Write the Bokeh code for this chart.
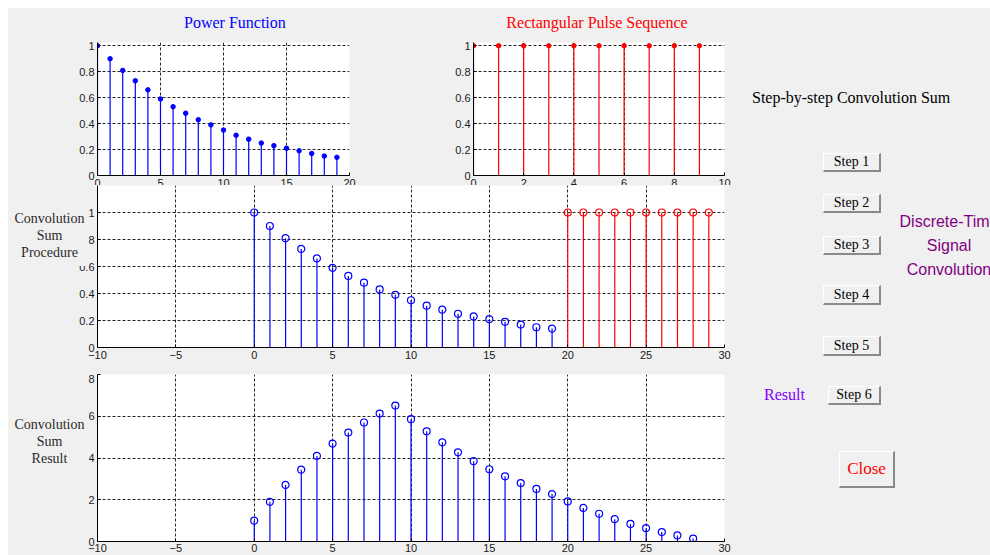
from bokeh.plotting import figure
from bokeh.models import ColumnDataSource, Range1d, FixedTicker, Div
from bokeh.layouts import row, column
from bokeh.embed import file_html
from bokeh.resources import INLINE

# ---------------- data ----------------
power_n = [0, 1, 2, 3, 4, 5, 6, 7, 8, 9, 10, 11, 12, 13, 14, 15, 16, 17, 18, 19]
power_vals = [1.0, 0.9, 0.81, 0.73, 0.66, 0.59, 0.53, 0.48, 0.43, 0.39,
              0.35, 0.31, 0.28, 0.25, 0.23, 0.21, 0.19, 0.17, 0.15, 0.14]

pulse_n = [0, 1, 2, 3, 4, 5, 6, 7, 8, 9]
pulse_vals = [1, 1, 1, 1, 1, 1, 1, 1, 1, 1]

proc_blue_n = [0, 1, 2, 3, 4, 5, 6, 7, 8, 9, 10, 11, 12, 13, 14, 15, 16, 17, 18, 19]
proc_blue_vals = [1.0, 0.9, 0.81, 0.73, 0.66, 0.59, 0.53, 0.48, 0.43, 0.39,
                  0.35, 0.31, 0.28, 0.25, 0.23, 0.21, 0.19, 0.17, 0.15, 0.14]
proc_red_n = [20, 21, 22, 23, 24, 25, 26, 27, 28, 29]
proc_red_vals = [1, 1, 1, 1, 1, 1, 1, 1, 1, 1]

result_n = [0, 1, 2, 3, 4, 5, 6, 7, 8, 9, 10, 11, 12, 13, 14, 15, 16, 17, 18, 19,
            20, 21, 22, 23, 24, 25, 26, 27, 28]
result_vals = [1.0, 1.9, 2.71, 3.44, 4.1, 4.69, 5.22, 5.7, 6.13, 6.51,
               5.86, 5.28, 4.75, 4.27, 3.85, 3.46, 3.12, 2.8, 2.52, 2.27,
               1.92, 1.61, 1.33, 1.07, 0.84, 0.64, 0.45, 0.29, 0.14]

tl_xticks = [0, 5, 10, 15, 20]
tr_xticks = [0, 2, 4, 6, 8, 10]
unit_yticks = [0, 0.2, 0.4, 0.6, 0.8, 1]
unit_ylabels = ["0", "0.2", "0.4", "0.6", "0.8", "1"]
conv_xticks = [-10, -5, 0, 5, 10, 15, 20, 25, 30]
result_yticks = [0, 2, 4, 6, 8]

BG = "#f0f0f0"
BLUE = "#0000ff"
RED = "#ff0000"
PANEL = {"background-color": BG}


def make_fig(w, h, xr, yr, left, right, top, bottom):
    p = figure(width=w, height=h, x_range=Range1d(*xr), y_range=Range1d(*yr),
               output_backend="svg", toolbar_location=None, tools="",
               min_border_left=left, min_border_right=right,
               min_border_top=top, min_border_bottom=bottom)
    p.background_fill_color = "white"
    p.border_fill_color = BG
    p.outline_line_color = None
    for ax in (p.xaxis[0], p.yaxis[0]):
        ax.axis_line_color = "black"
        ax.axis_line_width = 1
        ax.major_tick_in = 3
        ax.major_tick_out = 0
        ax.major_tick_line_color = "black"
        ax.minor_tick_line_color = None
        ax.major_label_text_font = "Liberation Sans"
        ax.major_label_text_font_size = "11px"
        ax.major_label_text_color = "#1a1a1a"
        ax.major_label_standoff = 3
    for g in (p.xgrid[0], p.ygrid[0]):
        g.grid_line_color = "black"
        g.grid_line_dash = "3 2"
        g.grid_line_alpha = 0.85
        g.grid_line_width = 1
    return p


def stems(p, n, v, color, size, filled):
    src = ColumnDataSource(dict(n=n, v=v, base=[0] * len(n)))
    p.segment(x0="n", y0="base", x1="n", y1="v", source=src,
              line_color=color, line_width=1.2)
    if filled:
        p.scatter("n", "v", source=src, size=size, marker="circle",
                  fill_color=color, line_color=color)
    else:
        p.scatter("n", "v", source=src, size=size, marker="circle",
                  fill_color=None, line_color=color, line_width=1.2)


def unit_y(p):
    p.yaxis.ticker = FixedTicker(ticks=unit_yticks)
    p.yaxis.major_label_overrides = {t: s for t, s in zip(unit_yticks, unit_ylabels)}
    p.ygrid.ticker = FixedTicker(ticks=unit_yticks)


def side_label(lines, h, top):
    html = ('<div style="width:79px;height:%dpx;background:%s;text-align:center;'
            'font-family:\'Liberation Serif\',serif;font-size:14px;line-height:17px;'
            'color:#2a2a2a;box-sizing:border-box;padding-top:%dpx;">%s</div>'
            % (h, BG, (h - 17 * len(lines)) // 2, "<br>".join(lines)))
    return Div(text=html, width=79, height=h, margin=(top, 651, 0, -730))


# ---------------- titles row ----------------
titles_html = (
    '<div style="position:relative;width:732px;height:28px;background:#f0f0f0;'
    'font-family:\'Liberation Serif\',serif;font-size:16px;line-height:20px;">'
    '<div style="position:absolute;left:176px;top:5px;color:#0000ff;white-space:nowrap;">'
    'Power Function</div>'
    '<div style="position:absolute;left:489px;top:5px;width:200px;text-align:center;'
    'color:#ff0000;white-space:nowrap;">Rectangular Pulse Sequence</div></div>')
titles = Div(text=titles_html, width=732, height=28, margin=0)

# ---------------- top left: power function ----------------
p_tl = make_fig(352, 164, (0, 20), (0, 1.025), 89, 11, 6, 25)
p_tl.xaxis.ticker = FixedTicker(ticks=tl_xticks)
p_tl.xgrid.ticker = FixedTicker(ticks=tl_xticks)
unit_y(p_tl)
stems(p_tl, power_n, power_vals, BLUE, 4.5, True)

# ---------------- top right: rectangular pulse ----------------
p_tr = make_fig(380, 164, (0, 10), (0, 1.025), 113, 16, 6, 25)
p_tr.xaxis.ticker = FixedTicker(ticks=tr_xticks)
p_tr.xgrid.ticker = FixedTicker(ticks=tr_xticks)
unit_y(p_tr)
stems(p_tr, pulse_n, pulse_vals, RED, 4.5, True)

# ---------------- middle: procedure ----------------
p_mid = make_fig(732, 189, (-10, 30), (0, 1.2), 89, 16, 0, 27)
p_mid.xaxis.ticker = FixedTicker(ticks=conv_xticks)
p_mid.xgrid.ticker = FixedTicker(ticks=conv_xticks)
unit_y(p_mid)
stems(p_mid, proc_blue_n, proc_blue_vals, BLUE, 7, False)
stems(p_mid, proc_red_n, proc_red_vals, RED, 7, False)
lab_mid = side_label(["Convolution", "Sum", "Procedure"], 60, 21)

# ---------------- bottom: result ----------------
p_bot = make_fig(732, 181, (-10, 30), (0, 8), 89, 16, 0, 14)
p_bot.xaxis.major_label_standoff = 2
p_bot.xaxis.ticker = FixedTicker(ticks=conv_xticks)
p_bot.xgrid.ticker = FixedTicker(ticks=conv_xticks)
p_bot.yaxis.ticker = FixedTicker(ticks=result_yticks)
p_bot.ygrid.ticker = FixedTicker(ticks=result_yticks)
stems(p_bot, result_n, result_vals, BLUE, 7, False)
lab_bot = side_label(["Convolution", "Sum", "Result"], 56, 40)

# ---------------- right panel ----------------
btn = ("position:absolute;left:{l}px;top:{t}px;width:{w}px;height:{h}px;"
       "box-sizing:border-box;background:#f0f0f0;border-top:1px solid #ffffff;"
       "border-left:1px solid #ffffff;border-right:2px solid #8a8a8a;"
       "border-bottom:2px solid #8a8a8a;display:flex;align-items:center;"
       "justify-content:center;font-size:{fs}px;color:{c};white-space:nowrap;")
buttons = [("Step 1", 83, 145, 58, 19), ("Step 2", 83, 186, 58, 19),
           ("Step 3", 83, 228, 58, 19), ("Step 4", 83, 277, 58, 20),
           ("Step 5", 83, 328, 58, 20), ("Step 6", 88, 378, 53, 19)]
html = ['<div style="position:relative;width:250px;height:547px;background:#f0f0f0;'
        'overflow:hidden;font-family:\'Liberation Serif\',serif;color:#000;">']
html.append('<div style="position:absolute;left:12px;top:79px;font-size:16px;'
            'white-space:nowrap;">Step-by-step Convolution Sum</div>')
for txt, l, t, w, h in buttons:
    html.append('<div style="' + btn.format(l=l, t=t, w=w, h=h, fs=14, c="#000") + '">'
                + txt + '</div>')
html.append('<div style="' + btn.format(l=99, t=443, w=56, h=37, fs=17, c="#ff0000") + '">Close</div>')
html.append('<div style="position:absolute;left:24px;top:376px;font-size:16px;'
            'color:#8000ff;white-space:nowrap;">Result</div>')
html.append('<div style="position:absolute;left:109px;top:202px;width:200px;'
            'text-align:center;font-family:\'Liberation Sans\',Arial,sans-serif;'
            'font-size:16px;line-height:24px;color:#800080;white-space:nowrap;">'
            'Discrete-Time<br>Signal<br>Convolution</div>')
html.append('</div>')
panel = Div(text="".join(html), width=250, height=547, margin=0)

top_row = row(p_tl, p_tr, styles=PANEL)
mid_row = row(p_mid, lab_mid, margin=(-15, 0, 0, 0), styles=PANEL)
bot_row = row(p_bot, lab_bot, styles=PANEL)
left_col = column(titles, top_row, mid_row, bot_row, styles=PANEL)
layout = row(left_col, panel, margin=(8, 0, 0, 8), styles=PANEL)

open("out.html", "w").write(file_html(layout, INLINE))
